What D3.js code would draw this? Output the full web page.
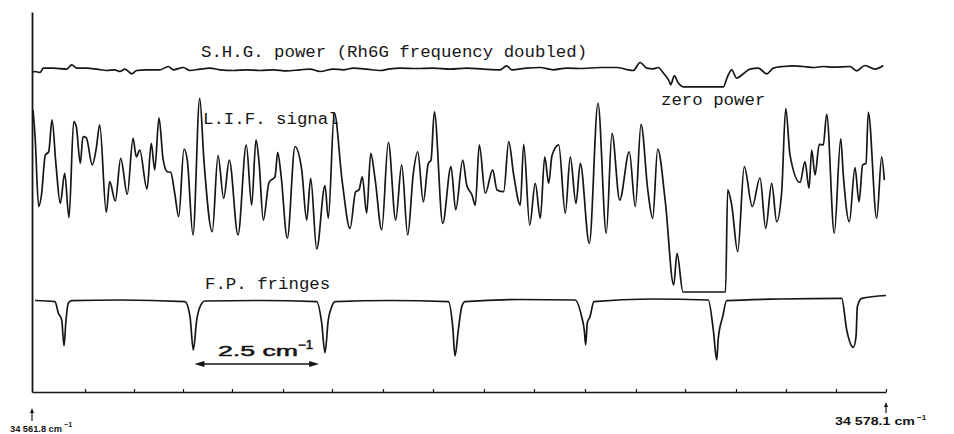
<!DOCTYPE html>
<html><head><meta charset="utf-8">
<script src="https://cdn.jsdelivr.net/npm/d3@7"></script>
<style>html,body{margin:0;padding:0;background:#fff;} svg{display:block;}</style>
</head><body>
<svg id="chart" width="954" height="434"></svg>
<script>
// x values: wavenumber offset (cm^-1) from 34561.8 cm^-1
const startWn = 34561.8;
const endWn = 34578.1;

// L.I.F. signal (arb. units, 0 = zero power level)
const lifDnu = [0.019,0.057,0.128,0.181,0.254,0.319,0.382,0.458,0.540,0.624,0.706,0.796,0.846,0.922,0.973,1.036,1.151,1.227,1.292,1.418,
1.483,1.590,1.693,1.819,1.928,1.991,2.056,2.195,2.277,2.342,2.424,2.500,2.582,2.647,2.724,2.800,2.901,2.964,3.073,3.201,
3.283,3.441,3.550,3.659,3.766,3.932,4.090,4.193,4.275,4.333,4.415,4.524,4.638,4.690,4.753,4.873,5.020,5.148,5.243,5.319,
5.434,5.592,5.655,5.770,5.923,6.070,6.178,6.241,6.304,6.388,6.465,6.547,6.675,6.801,6.942,7.056,7.171,7.278,7.362,7.469,
7.564,7.616,7.679,7.839,7.997,8.087,8.221,8.297,8.398,8.461,8.537,8.652,8.793,8.875,9.003,9.099,9.194,9.320,9.385,9.499,
9.606,9.702,9.786,9.862,9.925,10.053,10.179,10.274,10.383,10.465,10.637,10.803,10.961,11.070,11.217,11.401,11.515,11.624,11.757,11.847,
11.942,12.088,12.248,12.311,12.425,13.237,13.278,13.355,13.470,13.595,13.748,13.895,14.004,14.118,14.214,14.309,14.386,14.468,14.659,14.754,
14.830,14.882,14.945,15.027,15.103,15.168,15.313,15.436,15.485,15.600,15.708,15.785,15.855,15.918,15.962,16.123,16.218,16.268];
const lifVal = [93.8,80.9,44.0,50.0,70.6,72.3,88.7,65.5,45.7,61.2,38.3,87.8,85.2,66.3,80.1,79.5,65.5,74.1,86.1,41.1,
56.9,46.9,68.9,50.4,79.2,69.7,73.2,53.1,76.6,62.9,89.8,68.9,62.0,61.7,50.9,38.8,73.7,68.0,29.4,99.8,
67.2,31.1,70.3,48.3,68.0,29.4,75.8,44.8,78.4,67.2,37.1,56.5,59.4,72.0,60.3,27.7,74.9,62.9,37.1,58.6,
22.2,54.8,38.0,92.3,56.5,32.8,51.7,52.6,59.4,40.6,71.5,58.6,32.0,77.2,37.1,65.5,29.4,61.2,72.3,46.5,
66.3,68.0,92.9,35.4,64.6,42.3,68.0,55.2,50.0,44.8,75.8,50.9,62.9,52.6,51.7,77.5,60.3,44.8,76.1,34.5,
56.0,38.0,69.7,56.0,70.3,75.8,40.6,69.7,45.7,66.3,25.1,97.3,30.3,81.8,47.4,72.3,44.0,86.4,51.7,38.0,
73.7,46.5,3.6,19.9,0,0,52.6,44.8,20.8,64.6,44.0,58.9,32.8,56.0,36.2,51.7,94.7,70.6,56.5,67.2,
53.5,73.2,60.3,76.1,75.8,91.6,30.3,78.9,60.3,36.2,64.1,46.5,65.5,66.3,92.6,38.0,69.7,57.7];

// S.H.G. power (arb. units, 0 = zero power)
const shgDnu = [0.000,0.057,0.153,0.216,0.407,0.662,0.758,0.853,1.044,1.235,1.426,1.584,1.680,1.775,1.903,1.998,2.189,2.443,2.602,2.697,
2.888,3.016,3.207,3.397,3.588,3.842,4.098,4.352,4.606,4.861,5.115,5.306,5.497,5.751,5.942,6.133,6.388,6.642,6.833,7.024,
7.343,7.660,7.978,8.297,8.614,8.933,9.060,9.156,9.442,9.696,9.950,10.206,10.522,10.841,11.160,11.381,11.477,11.605,11.733,11.858,
11.954,12.050,12.164,12.191,12.259,12.336,12.431,13.195,13.271,13.355,13.450,13.577,13.704,13.863,14.023,14.149,14.340,14.531,14.722,14.912,
15.103,15.294,15.612,15.740,15.899,16.090,16.248];
const shgVal = [47.7,51.0,47.7,62.3,62.3,59.0,73.3,62.3,62.3,59.0,54.3,56.7,51.0,59.0,43.3,54.3,56.7,56.7,67.7,56.7,
64.3,54.3,59.0,62.3,56.7,54.3,56.7,54.3,56.7,53.3,56.7,59.0,51.0,59.0,56.7,62.3,59.0,54.3,60.0,62.3,
61.0,62.3,59.0,62.3,59.0,56.7,70.0,56.7,62.3,64.3,56.7,62.3,61.0,64.3,64.3,56.7,54.3,81.0,62.3,60.0,
64.3,45.7,17.7,6.7,36.7,12.3,0,0,32.3,56.7,29.0,43.3,59.0,62.3,43.3,62.3,67.7,70.0,67.7,64.3,
67.7,65.7,67.7,53.3,71.0,59.0,71.0];

// F.P. fringes (transmission, arb. units)
const fpDnu = [0.057,0.439,0.502,0.567,0.611,0.649,0.693,0.758,1.680,2.920,3.016,3.079,3.144,3.207,3.302,4.352,5.434,5.529,5.592,5.655,
5.720,5.783,6.833,7.946,8.030,8.074,8.137,8.202,8.265,9.314,10.364,10.491,10.541,10.568,10.598,10.650,10.726,11.796,12.908,13.004,
13.069,13.099,13.183,13.259,14.277,15.455,15.550,15.676,15.728,15.753,15.837,16.300];
const fpVal = [99.2,97.2,78.3,66.7,23.3,66.7,95.0,98.8,100,97.2,72.2,16.7,66.7,88.8,98.3,99.2,97.2,61.7,12.2,66.7,
88.8,97.2,99.2,97.2,55.5,6.7,50.0,88.8,97.2,100.8,100,72.2,50.0,25.0,61.2,72.2,97.2,101.7,100,50.0,
0,36.2,72.2,98.8,101.7,102.8,50.0,21.2,38.8,88.8,102.8,107.5];

// bottom axis tick positions (cm^-1 offsets)
const tickDnu = [1.012,1.947,2.882,3.817,4.791,5.726,6.699,7.654,8.627,9.581,10.555,11.528,12.464,13.437,14.391,15.346,16.3];

// text
const shgLabel = "S.H.G. power (Rh6G frequency doubled)";
const zeroLabel = "zero power";
const lifLabel = "L.I.F. signal";
const fpLabel = "F.P. fringes";
const fsrSpan = [3.10, 5.48];      // 2.5 cm^-1 marker between fringes
const fsrText = "2.5 cm";
const endLabels = ["34 561.8", "34 578.1"];

const svg = d3.select("#chart");
const ink = "#161616";

const x = d3.scaleLinear().domain([0, endWn - startWn]).range([32, 886]);
const yLif = d3.scaleLinear().domain([0, 100]).range([292, 98]);
const yShg = d3.scaleLinear().domain([0, 100]).range([86.8, 56.8]);
const yFp  = d3.scaleLinear().domain([0, 100]).range([360, 300]);
const frame = d3.scaleLinear().domain([0, 1]).range([392, 12]);

// axes
const gx = svg.append("g").attr("transform", "translate(0,392)")
  .call(d3.axisBottom(x).tickValues(tickDnu).tickSize(-3).tickSizeOuter(0).tickFormat(""));
gx.select(".domain").attr("stroke", ink).attr("stroke-width", 1.6);
gx.selectAll(".tick line").attr("stroke", ink).attr("stroke-width", 1.2);

const gy = svg.append("g").attr("transform", "translate(32,0)")
  .call(d3.axisLeft(frame).tickValues([]).tickSizeOuter(0));
gy.select(".domain").attr("stroke", ink).attr("stroke-width", 1.8);

function trace(dnu, val, yScale) {
  const pts = dnu.map((d, i) => [d, val[i]]);
  const line = d3.line().x(d => x(d[0])).y(d => yScale(d[1])).curve(d3.curveMonotoneX);
  svg.append("path").datum(pts).attr("d", line)
    .attr("fill", "none").attr("stroke", ink).attr("stroke-width", 1.7)
    .attr("stroke-linejoin", "round");
}
trace(shgDnu, shgVal, yShg);
trace(lifDnu, lifVal, yLif);
trace(fpDnu, fpVal, yFp);

// typewriter labels
const mono = "'Liberation Mono', 'Courier New', monospace";
function tlabel(t, px, py) {
  svg.append("text").attr("x", px).attr("y", py).text(t)
    .attr("font-family", mono).attr("font-size", 17.4).attr("fill", ink);
}
tlabel(shgLabel, 201, 56.5);
tlabel(zeroLabel, 661, 105);
tlabel(lifLabel, 203, 124);
tlabel(fpLabel, 205, 288.5);

// 2.5 cm-1 marker
const sans = "'Liberation Sans', Arial, sans-serif";
const ay = 364;
svg.append("line").attr("x1", x(fsrSpan[0]) + 4).attr("x2", x(fsrSpan[1]) - 4)
  .attr("y1", ay).attr("y2", ay).attr("stroke", ink).attr("stroke-width", 1.6);
[[x(fsrSpan[0]), 1], [x(fsrSpan[1]), -1]].forEach(([px, dir]) => {
  svg.append("path")
    .attr("d", `M${px},${ay} L${px + dir * 10},${ay - 3} L${px + dir * 10},${ay + 3} Z`)
    .attr("fill", ink);
});
const ft = svg.append("text").attr("x", 218).attr("y", 356)
  .attr("font-family", sans).attr("font-size", 15.5).attr("fill", ink)
  .attr("stroke", ink).attr("stroke-width", 0.5);
ft.append("tspan").text(fsrText).attr("textLength", 80).attr("lengthAdjust", "spacingAndGlyphs");
ft.append("tspan").text("\u22121").attr("x", 298).attr("y", 349).attr("font-size", 12)
  .attr("textLength", 15).attr("lengthAdjust", "spacingAndGlyphs");

// end markers
function endMarker(dnu, label, tx, top, bottom, ty, len, fs) {
  const px = x(dnu);
  svg.append("line").attr("x1", px).attr("x2", px).attr("y1", top + 4).attr("y2", bottom)
    .attr("stroke", ink).attr("stroke-width", 1.2);
  svg.append("path").attr("d", `M${px},${top} L${px - 2},${top + 5} L${px + 2},${top + 5} Z`).attr("fill", ink);
  const t = svg.append("text").attr("x", px + tx).attr("y", ty)
    .attr("font-family", sans).attr("font-weight", "bold").attr("font-size", fs).attr("fill", ink);
  t.append("tspan").text(label + " cm").attr("textLength", len).attr("lengthAdjust", "spacingAndGlyphs");
  t.append("tspan").text("\u22121").attr("dy", -fs * 0.55).attr("dx", 2).attr("font-size", fs * 0.8);
}
endMarker(0, endLabels[0], -22, 408, 421, 432, 52, 9);
endMarker(endWn - startWn, endLabels[1], -51, 402, 413, 425, 80, 10);
</script>
</body></html>
